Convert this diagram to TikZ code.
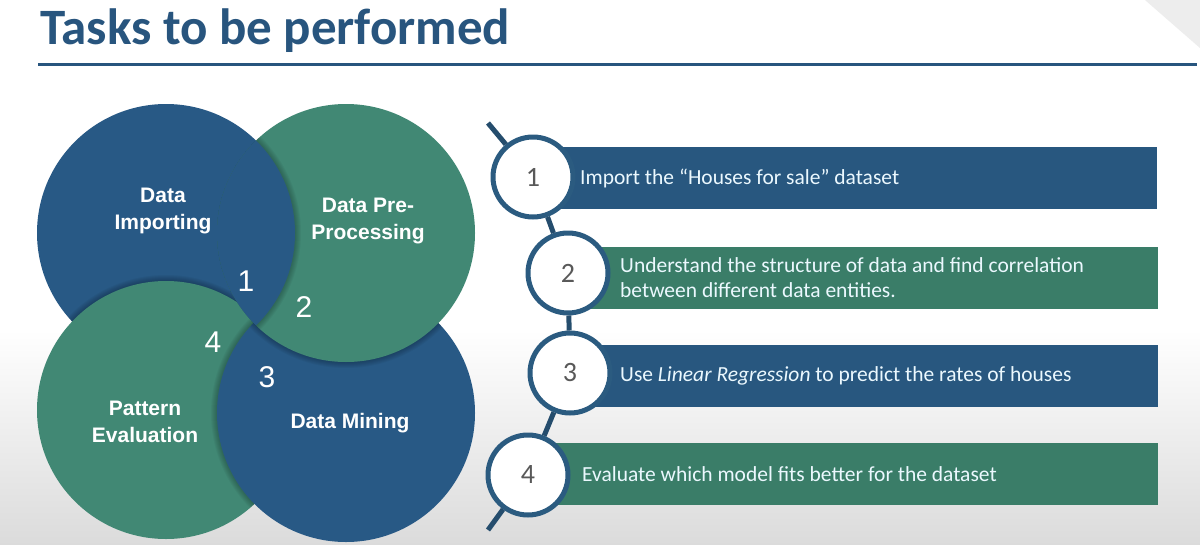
\documentclass[tikz,border=0pt]{standalone}
\usepackage{fontspec}
\setmainfont{Carlito}
\newfontfamily\arialfont{Liberation Sans}
\usepackage{xcolor}
\usepackage{tikz}
\usetikzlibrary{positioning}

\definecolor{titleblue}{HTML}{28557E}
\definecolor{circblue}{HTML}{285985}
\definecolor{circgreen}{HTML}{418874}
\definecolor{boxblue}{HTML}{28577F}
\definecolor{boxgreen}{HTML}{3A7D68}
\definecolor{ringblue}{HTML}{2B5B80}
\definecolor{numgray}{HTML}{595959}

\begin{document}
\begin{tikzpicture}[x=1pt, y=-1pt,
  blobtext/.style={text=white, align=center, font=\arialfont\bfseries\fontsize{21}{27}\selectfont},
  blobnum/.style={text=white, font=\arialfont\fontsize{30}{30}\selectfont},
  ring/.style={circle, draw=ringblue, line width=5pt, fill=white, minimum size=80pt, inner sep=0pt, text=numgray, font=\fontsize{28}{28}\selectfont},
  taskbox/.style={rectangle, inner sep=0pt, minimum height=62pt, anchor=west},
  tasktext/.style={anchor=west, align=left, inner sep=0pt, text=white!92!cyan, font=\fontsize{21.5}{25}\selectfont},
  chain/.style={draw=ringblue!85!black, line width=5pt}
]
  \useasboundingbox (0,0) rectangle (1200,544);

  % Background
  \fill[white] (0,0) rectangle (1200,544);
  \shade[top color=white, bottom color=black!14] (0,330) rectangle (1200,544);
  \fill[black!7] (1145,0) -- (1200,0) -- (1200,48) -- cycle;

  % Title
  \node[anchor=base west, inner sep=0pt, text=titleblue, font=\bfseries\fontsize{51}{51}\selectfont] (title) at (40,44) {Tasks to be performed};
  \draw[titleblue, line width=3pt] (38,64) -- (1197,64);

  % Discs: Importing > Pre-Processing > Mining > Pattern > Importing
  \fill[circblue] (166,233) circle[radius=129pt];
  \begin{scope}
    \clip (166,233) circle[radius=129pt];
    \foreach \s in {1,...,6} \fill[black, opacity=0.04] (166,410) circle[radius=129pt+\s pt];
  \end{scope}
  \fill[circgreen] (166,410) circle[radius=129pt];
  \begin{scope}
    \clip (166,410) circle[radius=129pt];
    \foreach \s in {1,...,6} \fill[black, opacity=0.04] (346,413) circle[radius=129pt+\s pt];
  \end{scope}
  \fill[circblue] (346,413) circle[radius=129pt];
  \begin{scope}
    \clip (346,413) circle[radius=129pt];
    \foreach \s in {1,...,6} \fill[black, opacity=0.04] (346,233) circle[radius=129pt+\s pt];
  \end{scope}
  \fill[circgreen] (346,233) circle[radius=129pt];
  \begin{scope}
    \clip (346,233) circle[radius=129pt];
    \foreach \s in {1,...,6} \fill[black, opacity=0.04] (166,233) circle[radius=129pt+\s pt];
    \fill[circblue] (166,233) circle[radius=129pt];
  \end{scope}

  % Disc labels
  \node[blobtext] (importing) at (163,211) {Data\\Importing};
  \node[blobtext] (preproc) at (368,221) {Data Pre-\\Processing};
  \node[blobtext] (pattern) at (145,422) {Pattern\\Evaluation};
  \node[blobtext] (mining) at (350,423) {Data Mining};
  \node[blobnum] (k1) at (246,281) {1};
  \node[blobnum] (k2) at (304,307) {2};
  \node[blobnum] (k3) at (267,377) {3};
  \node[blobnum] (k4) at (213,342) {4};

  % Task bars
  \node[taskbox, fill=boxblue, minimum width=624pt] (box1) at (533,178) {};
  \node[taskbox, fill=boxgreen, minimum width=590pt] (box2) at (568,277.5) {};
  \node[taskbox, fill=boxblue, minimum width=590pt] (box3) at (568,376) {};
  \node[taskbox, fill=boxgreen, minimum width=630pt] (box4) at (528,474) {};

  \node[tasktext] (t1) at (580,178) {Import the “Houses for sale” dataset};
  \node[tasktext] (t2) at (620,277.5) {Understand the structure of data and find correlation\\between different data entities.};
  \node[tasktext] (t3) at (620,376) {Use \textit{Linear Regression} to predict the rates of houses};
  \node[tasktext] (t4) at (582,474) {Evaluate which model fits better for the dataset};

  % Step rings on a chain
  \coordinate (chaintop) at (488,123);
  \coordinate (chainbot) at (488,530);
  \node[ring] (n1) at (533,177) {1};
  \node[ring] (n2) at (568,273) {2};
  \node[ring] (n3) at (570,373) {3};
  \node[ring] (n4) at (528,475) {4};
  \draw[chain] (chaintop) -- (n1) -- (n2) -- (n3) -- (n4) -- (chainbot);
\end{tikzpicture}
\end{document}
